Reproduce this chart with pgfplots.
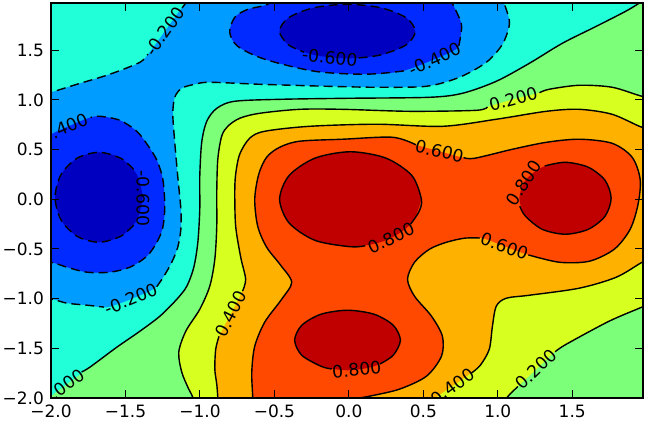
\documentclass[border=0pt]{standalone}
\usepackage{fontspec}
\setmainfont{DejaVu Sans}
\usepackage{pgfplots}
\pgfplotsset{compat=1.18}
\definecolor{c0}{RGB}{0,0,192}
\definecolor{c1}{RGB}{0,42,255}
\definecolor{c2}{RGB}{0,156,255}
\definecolor{c3}{RGB}{32,255,215}
\definecolor{c4}{RGB}{124,255,121}
\definecolor{c5}{RGB}{215,255,32}
\definecolor{c6}{RGB}{255,177,0}
\definecolor{c7}{RGB}{255,72,0}
\definecolor{c8}{RGB}{192,0,0}
\tikzset{lab/.style={font=\fontsize{8.6}{9}\selectfont, inner sep=0pt, text=black}}
\begin{document}
\begin{tikzpicture}
\useasboundingbox (-25.5pt,-12pt) rectangle (299.5pt,199pt);
\begin{axis}[
  at={(0,0)}, anchor=south west,
  scale only axis, width=296pt, height=197.5pt,
  xmin=-2, xmax=1.975, ymin=-2, ymax=1.975,
  xtick={-2,-1.5,-1,-0.5,0,0.5,1,1.5},
  ytick={-2,-1.5,-1,-0.5,0,0.5,1,1.5},
  xticklabels={−2.0,−1.5,−1.0,−0.5,0.0,0.5,1.0,1.5},
  yticklabels={−2.0,−1.5,−1.0,−0.5,0.0,0.5,1.0,1.5},
  tick align=inside, major tick length=3.8pt,
  tick style={black, line width=0.5pt},
  axis line style={line width=0.9pt},
  ticklabel style={font=\fontsize{8.5}{9}\selectfont},
  axis background/.style={fill=c3},
  axis on top, no markers, clip=true,
  ff/.style={draw=none, fill=#1, smooth},
  pos/.style={black, line width=0.7pt, smooth},
  neg/.style={black, line width=0.7pt, smooth, dash pattern=on 4.5pt off 2.5pt},
]
% ---- z < -0.2
\addplot[ff=c2] coordinates {(-2.141,1.016) (-2.000,1.076) (-1.826,1.157) (-1.605,1.258) (-1.403,1.378) (-1.323,1.509) (-1.236,1.690) (-1.149,1.871) (-1.068,2.032) (-1.028,2.133) (0.997,2.133) (1.024,2.032) (1.057,1.911) (1.078,1.761) (1.031,1.559) (0.923,1.378) (0.742,1.227) (0.521,1.137) (0.186,1.127) (-0.150,1.137) (-0.599,1.157) (-0.934,1.177) (-1.035,1.157) (-1.122,1.117) (-1.169,1.026) (-1.182,0.855) (-1.169,0.573) (-1.149,0.231) (-1.128,-0.101) (-1.128,-0.302) (-1.149,-0.483) (-1.189,-0.634) (-1.242,-0.775) (-1.303,-0.895) (-1.464,-1.006) (-1.625,-1.087) (-1.759,-1.066) (-1.893,-1.046) (-1.993,-1.006) (-2.141,-0.986)};
% ---- z < -0.4
\addplot[ff=c1] coordinates {(-2.141,-0.624) (-2.000,-0.634) (-1.893,-0.684) (-1.759,-0.734) (-1.605,-0.734) (-1.470,-0.684) (-1.356,-0.573) (-1.289,-0.433) (-1.249,-0.282) (-1.236,-0.070) (-1.249,0.201) (-1.289,0.392) (-1.350,0.543) (-1.424,0.684) (-1.538,0.795) (-1.672,0.835) (-1.752,0.815) (-1.913,0.714) (-2.000,0.654) (-2.141,0.563)};
\addplot[ff=c1] coordinates {(-0.431,2.093) (-0.545,1.962) (-0.679,1.911) (-0.766,1.831) (-0.800,1.680) (-0.746,1.539) (-0.565,1.409) (-0.230,1.288) (0.105,1.258) (0.353,1.288) (0.575,1.409) (0.729,1.520) (0.749,1.630) (0.756,1.761) (0.715,1.911) (0.662,2.062) (0.635,2.163)};
% ---- z < -0.6
\addplot[ff=c0] coordinates {(0.446,1.690) (0.385,1.826) (0.218,1.926) (-0.010,1.962) (-0.238,1.926) (-0.405,1.826) (-0.466,1.690) (-0.405,1.554) (-0.238,1.454) (-0.010,1.418) (0.218,1.454) (0.385,1.554) (0.446,1.690)};
\addplot[ff=c0] coordinates {(-1.383,0.020) (-1.423,0.247) (-1.531,0.412) (-1.678,0.473) (-1.826,0.412) (-1.933,0.247) (-1.973,0.020) (-1.933,-0.207) (-1.826,-0.372) (-1.678,-0.433) (-1.531,-0.372) (-1.423,-0.207) (-1.383,0.020)};
% ---- z > 0
\addplot[ff=c4] coordinates {(-2.2,-2.17) (-2.101,-2.093) (-1.920,-1.891) (-1.739,-1.690) (-1.558,-1.489) (-1.403,-1.328) (-1.269,-1.177) (-1.155,-1.006) (-1.088,-0.875) (-1.041,-0.684) (-1.014,-0.433) (-1.001,-0.101) (-1.001,0.231) (-0.988,0.573) (-0.954,0.785) (-0.887,0.915) (-0.766,0.986) (-0.451,1.006) (-0.009,1.016) (0.541,1.026) (0.762,1.066) (0.990,1.187) (1.212,1.368) (1.433,1.569) (1.661,1.740) (1.882,1.911) (2.050,2.072) (2.15,2.17) (2.35,2.0) (2.35,-2.35) (-2.2,-2.35)};
% ---- z > 0.2
\addplot[ff=c5] coordinates {(2.12,1.03) (2.050,1.036) (1.969,1.036) (1.768,1.127) (1.547,1.147) (1.346,1.107) (1.265,1.066) (1.104,1.006) (0.943,0.936) (0.856,0.895) (0.407,0.885) (-0.042,0.905) (-0.331,0.905) (-0.599,0.865) (-0.733,0.815) (-0.813,0.734) (-0.854,0.634) (-0.880,0.402) (-0.887,0.070) (-0.887,-0.272) (-0.900,-0.604) (-0.934,-0.875) (-1.001,-1.107) (-1.095,-1.328) (-1.142,-1.539) (-1.122,-1.740) (-1.075,-1.911) (-1.048,-1.992) (-1.028,-2.133) (-1.0,-2.3) (0.98,-2.3) (1.010,-2.133) (1.064,-1.992) (1.145,-1.871) (1.259,-1.710) (1.373,-1.549) (1.460,-1.459) (1.748,-1.227) (1.983,-1.076) (2.083,-1.006) (2.2,-0.95)};
% ---- z > 0.4
\addplot[ff=c6] coordinates {(2.12,0.72) (2.050,0.724) (1.969,0.724) (1.768,0.855) (1.547,0.905) (1.326,0.885) (0.990,0.805) (0.628,0.734) (0.186,0.755) (-0.264,0.734) (-0.565,0.684) (-0.666,0.614) (-0.733,0.453) (-0.760,0.252) (-0.766,0.070) (-0.760,-0.272) (-0.726,-0.584) (-0.693,-0.805) (-0.719,-0.936) (-0.793,-1.157) (-0.867,-1.368) (-0.894,-1.509) (-0.900,-1.710) (-0.887,-1.861) (-0.880,-1.992) (-0.874,-2.133) (-0.85,-2.3) (0.45,-2.3) (0.508,-2.113) (0.588,-1.992) (0.675,-1.901) (0.809,-1.761) (0.883,-1.670) (0.943,-1.509) (0.964,-1.278) (0.990,-1.076) (1.057,-0.996) (1.212,-0.966) (1.547,-0.895) (1.795,-0.785) (1.969,-0.634) (2.083,-0.553) (2.2,-0.5)};
% ---- z > 0.6
\addplot[ff=c7] coordinates {(-0.652,-2.133) (-0.646,-1.992) (-0.652,-1.740) (-0.632,-1.479) (-0.565,-1.237) (-0.451,-1.006) (-0.384,-0.835) (-0.458,-0.664) (-0.552,-0.483) (-0.612,-0.272) (-0.632,0.000) (-0.605,0.252) (-0.552,0.423) (-0.465,0.523) (-0.331,0.584) (-0.042,0.604) (0.293,0.624) (0.461,0.543) (0.608,0.483) (0.756,0.423) (0.843,0.412) (1.098,0.503) (1.326,0.573) (1.547,0.604) (1.768,0.563) (1.902,0.423) (1.956,0.201) (1.942,-0.050) (1.889,-0.302) (1.782,-0.503) (1.614,-0.624) (1.413,-0.634) (1.192,-0.553) (1.044,-0.473) (0.896,-0.392) (0.776,-0.392) (0.655,-0.433) (0.541,-0.503) (0.441,-0.634) (0.394,-0.805) (0.441,-0.976) (0.555,-1.177) (0.628,-1.378) (0.622,-1.579) (0.521,-1.781) (0.340,-1.911) (0.139,-1.982) (-0.029,-2.032) (-0.129,-2.153)};
% ---- z > 0.8
\addplot[ff=c8] coordinates {(0.487,0) (0.423,0.239) (0.249,0.414) (0.011,0.478) (-0.227,0.414) (-0.401,0.239) (-0.465,0) (-0.401,-0.239) (-0.227,-0.414) (0.011,-0.478) (0.249,-0.414) (0.423,-0.239) (0.487,0)};
\addplot[ff=c8] coordinates {(0.346,-1.419) (0.298,-1.268) (0.169,-1.157) (-0.009,-1.117) (-0.187,-1.157) (-0.316,-1.268) (-0.364,-1.419) (-0.316,-1.570) (-0.187,-1.681) (-0.009,-1.721) (0.169,-1.681) (0.298,-1.570) (0.346,-1.419)};
\addplot[ff=c8] coordinates {(1.761,0.010) (1.720,0.191) (1.607,0.323) (1.453,0.372) (1.299,0.323) (1.186,0.191) (1.145,0.010) (1.186,-0.171) (1.299,-0.303) (1.453,-0.352) (1.607,-0.303) (1.720,-0.171) (1.761,0.010)};

% ==== contour lines: negative (dashed)
\addplot[neg] coordinates {(-2.141,1.016) (-2.000,1.076) (-1.826,1.157) (-1.605,1.258) (-1.403,1.378) (-1.350,1.460)};
\addplot[neg] coordinates {(-1.120,1.925) (-1.068,2.032) (-1.028,2.133)};
\addplot[neg] coordinates {(-2.141,-0.986) (-1.993,-1.006) (-1.893,-1.046) (-1.759,-1.066) (-1.645,-1.085)};
\addplot[neg] coordinates {(-1.290,-0.880) (-1.242,-0.775) (-1.189,-0.634) (-1.149,-0.483) (-1.128,-0.302) (-1.128,-0.101) (-1.149,0.231) (-1.169,0.573) (-1.182,0.855) (-1.169,1.026) (-1.122,1.117) (-1.035,1.157) (-0.934,1.177) (-0.599,1.157) (-0.150,1.137) (0.186,1.127) (0.521,1.137) (0.742,1.227) (0.923,1.378) (1.031,1.559) (1.078,1.761) (1.057,1.911) (1.024,2.032) (0.997,2.133)};
\addplot[neg] coordinates {(-2.141,-0.624) (-2.000,-0.634) (-1.893,-0.684) (-1.759,-0.734) (-1.605,-0.734) (-1.470,-0.684) (-1.356,-0.573) (-1.289,-0.433) (-1.249,-0.282) (-1.236,-0.070) (-1.249,0.201) (-1.289,0.392) (-1.350,0.543) (-1.424,0.684) (-1.538,0.795) (-1.672,0.835) (-1.735,0.822)};
\addplot[neg] coordinates {(-0.431,2.093) (-0.545,1.962) (-0.679,1.911) (-0.766,1.831) (-0.800,1.680) (-0.746,1.539) (-0.565,1.409) (-0.230,1.288) (0.105,1.258) (0.353,1.288) (0.390,1.305)};
\addplot[neg] coordinates {(0.738,1.545) (0.749,1.630) (0.756,1.761) (0.715,1.911) (0.662,2.062) (0.635,2.163)};
\addplot[neg] coordinates {(0.065,1.422) (0.218,1.454) (0.385,1.554) (0.446,1.690) (0.385,1.826) (0.218,1.926) (-0.010,1.962) (-0.238,1.926) (-0.405,1.826) (-0.466,1.690) (-0.405,1.554) (-0.300,1.480)};
\addplot[neg] coordinates {(-1.445,0.300) (-1.531,0.412) (-1.678,0.473) (-1.826,0.412) (-1.933,0.247) (-1.973,0.020) (-1.933,-0.207) (-1.826,-0.372) (-1.678,-0.433) (-1.531,-0.372) (-1.445,-0.260)};
% ==== contour lines: zero and positive (solid)
\addplot[pos] coordinates {(-1.795,-1.738) (-1.739,-1.690) (-1.558,-1.489) (-1.403,-1.328) (-1.269,-1.177) (-1.155,-1.006) (-1.088,-0.875) (-1.041,-0.684) (-1.014,-0.433) (-1.001,-0.101) (-1.001,0.231) (-0.988,0.573) (-0.954,0.785) (-0.887,0.915) (-0.766,0.986) (-0.451,1.006) (-0.009,1.016) (0.541,1.026) (0.762,1.066) (0.990,1.187) (1.212,1.368) (1.433,1.569) (1.661,1.740) (1.882,1.911) (2.050,2.072) (2.15,2.17)};
\addplot[pos] coordinates {(2.12,1.03) (2.050,1.036) (1.969,1.036) (1.768,1.127) (1.547,1.147) (1.346,1.107) (1.280,1.072)};
\addplot[pos] coordinates {(0.930,0.930) (0.856,0.895) (0.407,0.885) (-0.042,0.905) (-0.331,0.905) (-0.599,0.865) (-0.733,0.815) (-0.813,0.734) (-0.854,0.634) (-0.880,0.402) (-0.887,0.070) (-0.887,-0.272) (-0.900,-0.604) (-0.934,-0.875) (-1.001,-1.107) (-1.095,-1.328) (-1.142,-1.539) (-1.122,-1.740) (-1.075,-1.911) (-1.048,-1.992) (-1.028,-2.133)};
\addplot[pos] coordinates {(1.010,-2.133) (1.064,-1.992) (1.135,-1.885)};
\addplot[pos] coordinates {(1.385,-1.535) (1.460,-1.459) (1.748,-1.227) (1.983,-1.076) (2.083,-1.006)};
\addplot[pos] coordinates {(2.12,0.72) (2.050,0.724) (1.969,0.724) (1.768,0.855) (1.547,0.905) (1.326,0.885) (0.990,0.805) (0.628,0.734) (0.186,0.755) (-0.264,0.734) (-0.565,0.684) (-0.666,0.614) (-0.733,0.453) (-0.760,0.252) (-0.766,0.070) (-0.760,-0.272) (-0.726,-0.584) (-0.693,-0.805) (-0.714,-0.925)};
\addplot[pos] coordinates {(-0.872,-1.380) (-0.894,-1.509) (-0.900,-1.710) (-0.887,-1.861) (-0.880,-1.992) (-0.874,-2.133)};
\addplot[pos] coordinates {(2.083,-0.553) (1.969,-0.634) (1.795,-0.785) (1.547,-0.895) (1.212,-0.966) (1.057,-0.996) (0.990,-1.076) (0.964,-1.278) (0.943,-1.509) (0.883,-1.670) (0.822,-1.750)};
\addplot[pos] coordinates {(-0.652,-2.133) (-0.646,-1.992) (-0.652,-1.740) (-0.632,-1.479) (-0.565,-1.237) (-0.451,-1.006) (-0.384,-0.835) (-0.458,-0.664) (-0.552,-0.483) (-0.612,-0.272) (-0.632,0.000) (-0.605,0.252) (-0.552,0.423) (-0.465,0.523) (-0.331,0.584) (-0.042,0.604) (0.293,0.624) (0.450,0.548)};
\addplot[pos] coordinates {(0.770,0.420) (0.843,0.412) (1.098,0.503) (1.326,0.573) (1.547,0.604) (1.768,0.563) (1.902,0.423) (1.956,0.201) (1.942,-0.050) (1.889,-0.302) (1.782,-0.503) (1.614,-0.624) (1.413,-0.634) (1.205,-0.560)};
\addplot[pos] coordinates {(0.880,-0.390) (0.776,-0.392) (0.655,-0.433) (0.541,-0.503) (0.441,-0.634) (0.394,-0.805) (0.441,-0.976) (0.555,-1.177) (0.628,-1.378) (0.622,-1.579) (0.521,-1.781) (0.340,-1.911) (0.139,-1.982) (-0.029,-2.032) (-0.129,-2.153)};
\addplot[pos] coordinates {(0.415,-0.250) (0.471,-0.124) (0.487,0) (0.423,0.239) (0.249,0.414) (0.011,0.478) (-0.227,0.414) (-0.401,0.239) (-0.465,0) (-0.401,-0.239) (-0.227,-0.414) (0.011,-0.478) (0.110,-0.468)};
\addplot[pos] coordinates {(0.210,-1.657) (0.298,-1.570) (0.346,-1.419) (0.298,-1.268) (0.169,-1.157) (-0.009,-1.117) (-0.187,-1.157) (-0.316,-1.268) (-0.364,-1.419) (-0.316,-1.570) (-0.187,-1.681) (-0.115,-1.708)};
\addplot[pos] coordinates {(1.148,-0.070) (1.186,-0.171) (1.299,-0.303) (1.453,-0.352) (1.607,-0.303) (1.720,-0.171) (1.761,0.010) (1.720,0.191) (1.607,0.323) (1.453,0.372) (1.315,0.335)};

% ==== inline labels
\node[lab, rotate=55] at (axis cs:-1.236,1.690) {-0.200};
\node[lab, rotate=22] at (axis cs:-1.464,-1.006) {-0.200};
\node[lab, rotate=23] at (axis cs:-1.930,0.705) {-0.400};
\node[lab, rotate=25] at (axis cs:0.575,1.409) {-0.400};
\node[lab, rotate=-6] at (axis cs:-0.128,1.427) {-0.600};
\node[lab, rotate=-90] at (axis cs:-1.383,0.010) {-0.600};
\node[lab, rotate=36] at (axis cs:-1.920,-1.891) {0.000};
\node[lab, rotate=15] at (axis cs:1.104,1.006) {0.200};
\node[lab, rotate=44] at (axis cs:1.259,-1.710) {0.200};
\node[lab, rotate=63] at (axis cs:-0.793,-1.157) {0.400};
\node[lab, rotate=36] at (axis cs:0.695,-1.885) {0.400};
\node[lab, rotate=-14] at (axis cs:0.608,0.483) {0.600};
\node[lab, rotate=-20] at (axis cs:1.044,-0.473) {0.600};
\node[lab, rotate=25] at (axis cs:0.284,-0.391) {0.800};
\node[lab, rotate=6] at (axis cs:0.053,-1.716) {0.800};
\node[lab, rotate=57] at (axis cs:1.174,0.163) {0.800};
\end{axis}
\end{tikzpicture}
\end{document}
